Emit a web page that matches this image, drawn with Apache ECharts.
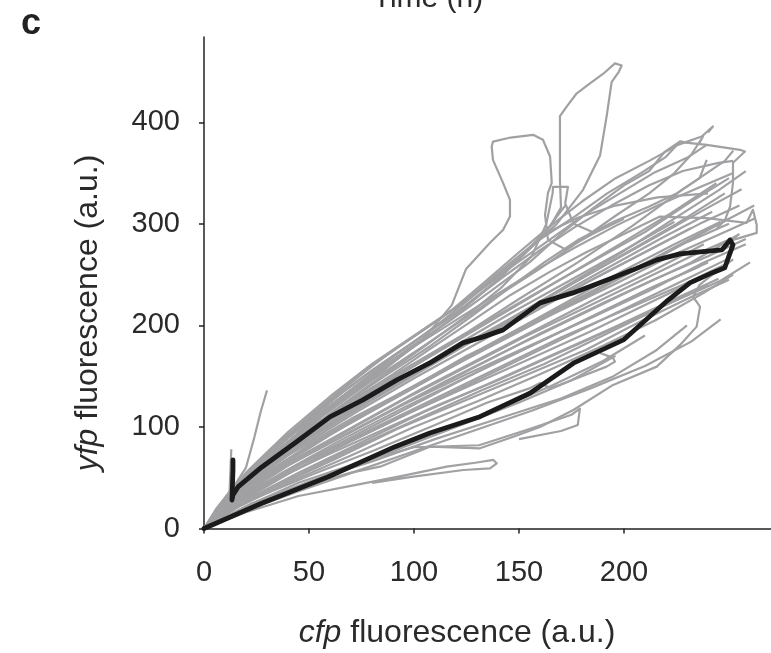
<!DOCTYPE html>
<html>
<head>
<meta charset="utf-8">
<script src="https://cdn.jsdelivr.net/npm/echarts@6/dist/echarts.min.js"></script>
<style>html,body{margin:0;padding:0;background:#fff}#chart{width:771px;height:653px}</style>
</head>
<body>
<div id="chart"></div>
<script>
// ---- tick labels ----
const xTicks = [0, 50, 100, 150, 200];
const yTicks = [0, 100, 200, 300, 400];

// ---- highlighted (black) trajectory: cfp, yfp ----
const blackCell = [[0,0],[27.5,24.8],[59.2,51],[91,80.6],[107.6,94],[131.4,110.1],[155.2,133.2],[175.9,162.8],[199.7,185.7],[221,225],[231.4,241.9],[241.9,251.7],[248,256.7],[250,268.5],[251.9,279.3],[250.5,284.2],[246.7,274.4],[236.2,272.4],[226.7,270.4],[215.7,264.5],[204.3,254.7],[191.9,244.8],[175.7,232],[160,222.2],[142.4,195.6],[132.9,188.7],[123.3,182.8],[107.6,163],[91.9,146.3],[75.7,126.6],[60,109.9],[43.3,84.2],[27.6,60.6],[16.2,40.9],[13.8,33],[13.3,28],[13.8,57.6],[13.8,67.5]];

// ---- grey trajectories (core of the fan) ----
const c01 = [[0,0],[15,20],[40,45],[70,72],[100,100],[130,125],[160,152],[190,180],[215,205],[238,232],[252,250]];
const c02 = [[0,0],[20,28],[45,55],[75,85],[105,115],[135,142],[165,170],[195,198],[220,222],[245,246]];
const c03 = [[0,0],[18,30],[45,62],[80,98],[110,128],[140,158],[170,188],[200,215],[228,240],[250,262]];
const c04 = [[0,0],[15,28],[40,62],[70,95],[100,128],[130,160],[160,192],[190,222],[215,246],[240,268],[258,285]];
const c05 = [[0,0],[20,38],[50,74],[85,112],[115,145],[145,176],[175,206],[205,236],[232,262],[255,290]];
const c06 = [[0,0],[18,38],[45,75],[75,110],[105,145],[135,178],[165,210],[195,240],[222,268],[248,292],[262,305]];
const c07 = [[0,0],[22,45],[50,82],[80,118],[110,152],[140,186],[170,218],[198,248],[225,278],[250,305]];
const c08 = [[0,0],[15,36],[40,72],[70,108],[100,140],[125,170],[155,200],[185,232],[212,262],[238,292],[262,318]];
const c09 = [[0,0],[20,46],[48,86],[78,124],[105,158],[132,190],[160,220],[190,254],[218,286],[242,312]];
const c10 = [[0,0],[12,32],[35,70],[65,110],[95,146],[120,176],[150,208],[180,240],[210,272],[236,300],[255,318]];
const c11 = [[0,0],[25,56],[55,98],[85,135],[112,168],[140,200],[168,232],[198,268],[225,300],[248,330]];
const c12 = [[0,0],[18,46],[44,88],[72,126],[100,160],[128,196],[155,228],[184,262],[210,292],[232,322],[250,345]];
const c13 = [[0,0],[10,30],[30,66],[58,104],[88,140],[116,172],[144,204],[170,236],[196,268],[220,300],[245,333],[258,352]];
const c14 = [[0,0],[20,52],[45,92],[70,126],[98,160],[126,194],[150,226],[178,262],[204,298],[228,334],[248,362],[252,372]];
const c15 = [[0,0],[16,24],[42,50],[72,80],[102,108],[132,136],[162,162],[192,192],[218,218],[240,240]];
const c16 = [[0,0],[14,26],[38,56],[66,88],[96,120],[126,150],[156,180],[186,210],[212,236],[236,258]];
const c17 = [[0,0],[16,34],[40,68],[68,102],[96,134],[124,166],[152,196],[180,228],[206,256],[230,282],[250,300]];
const c18 = [[0,0],[14,34],[36,70],[62,106],[90,142],[118,178],[146,212],[174,244],[200,274],[224,302]];
const c19 = [[0,0],[12,18],[35,42],[62,68],[92,98],[122,124],[152,150],[182,176],[208,204],[232,228],[250,245]];
const c20 = [[0,0],[18,27],[42,56],[70,86],[98,114],[126,140],[154,166],[184,194],[210,220],[236,246]];
const c21 = [[0,0],[14,24],[38,52],[64,80],[92,108],[120,136],[148,164],[176,192],[204,220],[230,246],[250,266]];
const c22 = [[0,0],[20,34],[46,64],[74,94],[102,124],[130,154],[158,182],[186,210],[214,238],[240,262]];
const c23 = [[0,0],[16,32],[40,64],[68,96],[96,128],[124,158],[152,188],[180,216],[206,242],[232,268],[254,288]];
const c24 = [[0,0],[22,42],[48,74],[76,106],[104,138],[132,168],[160,198],[188,228],[214,254],[238,280]];
const c25 = [[0,0],[12,26],[34,58],[60,92],[88,126],[116,158],[144,190],[172,222],[198,252],[224,280],[246,302]];
const c26 = [[0,0],[18,40],[44,78],[72,114],[100,148],[128,180],[156,212],[182,242],[208,270],[232,296]];
const c27 = [[0,0],[24,50],[50,88],[78,124],[106,158],[134,192],[162,226],[190,258],[216,288],[240,316],[256,334]];
const c28 = [[0,0],[14,36],[36,74],[62,112],[90,148],[118,182],[146,216],[172,248],[198,280],[222,310],[244,340]];
const c29 = [[0,0],[10,22],[30,44],[56,70],[84,96],[112,122],[140,146],[168,172],[196,198],[222,222],[246,244],[260,262]];
const c30 = [[0,0],[15,30],[38,60],[65,90],[95,122],[125,152],[155,180],[185,208],[212,234],[238,262],[258,280]];

// ---- grey trajectories (upper part and outliers) ----
const u01 = [[0,0],[8,25],[20,55],[40,95],[60,130],[80,162],[100,190],[118,215],[135,245],[150,272],[165,298],[180,322],[196,345],[212,362],[226,378],[237,386],[242.4,396],[240,390]];
const u02 = [[0,0],[10,28],[25,62],[45,100],[65,135],[85,168],[105,196],[125,225],[142,255],[158,282],[175,305],[192,330],[208,350],[220,366],[226.7,381],[231,380]];
const u03 = [[0,0],[12,30],[30,66],[50,104],[72,140],[92,172],[112,202],[130,232],[148,260],[165,285],[182,310],[198,330],[214,350],[230,365],[239.4,377.8],[255.2,372.9],[257.6,371.2],[251.9,360.1],[251.9,340.4],[250.5,317],[248.1,303.9],[244,295]];
const u04 = [[0,0],[15,36],[35,74],[56,112],[78,148],[98,178],[118,206],[138,236],[155,262],[170,290],[185,315],[200,338],[212,352],[219.5,371.2],[226.7,381.1],[230.5,379.8],[239.4,377.8]];
const u05 = [[0,0],[8,24],[15,44],[20,60],[24,90],[27,115],[30,136]];
const u06 = [[0,0],[15,40],[35,78],[60,118],[85,155],[105,188],[118,220],[124.8,255.6],[136.2,281.3],[142.4,294],[145.7,307.2],[145.7,323.6],[142.4,340.4],[137.6,363],[137,376],[137.6,381],[146,385],[156.7,387.7],[161.4,382.8],[164.8,366.3],[165.6,340.4],[163.8,330.5],[162.4,308.9],[163.8,284.2],[172,275],[185,290],[200,305]];
const u07 = [[0,0],[12,32],[30,68],[52,106],[75,142],[98,176],[120,210],[140,245],[155,275],[165,298],[170,316],[169.5,343],[169.5,406],[172.7,415.5],[177.5,428.6],[183.8,438.4],[190,447.6],[195.7,458],[198.9,456],[197.6,450],[194.1,439.6],[191.8,406.8],[188.6,367.3],[180.5,333.5],[174.3,316.7],[168,300],[160,285]];
const u08 = [[0,0],[14,35],[34,72],[58,110],[82,146],[104,178],[124,208],[142,238],[156,268],[163,300],[166,330],[166.2,336.4],[173.3,336.4],[172,320],[176,300],[185,292]];
const u09 = [[0,0],[16,38],[38,78],[62,116],[86,150],[108,180],[128,210],[146,238],[162,262],[178,284],[195,302],[212,317],[225,330],[236,345],[239.4,363]];
const u10 = [[0,0],[14,34],[34,72],[56,110],[80,146],[102,176],[122,204],[142,232],[160,256],[178,282],[196,308],[212,330],[224,350],[232,368],[237.6,386],[236,380]];
const u11 = [[0,0],[18,44],[42,84],[66,120],[90,152],[110,180],[128,205],[146,230],[164,252],[182,272],[200,290],[217.1,307.2],[239.4,305.6],[258.4,301],[261.4,313.8],[263.2,299],[263.2,291.1],[255.2,286.2],[248,282]];
const u12 = [[0,0],[12,28],[13,78]];
const u13 = [[0,0],[10,30],[26,64],[46,100],[66,134],[86,164],[106,192],[126,222],[144,250],[160,274],[176,296],[194,318],[212,338],[228,352],[245,360],[252,362]];
const u14 = [[0,0],[14,40],[32,76],[54,112],[76,146],[96,174],[116,200],[136,226],[156,252],[176,276],[196,298],[216,318],[236,336],[252,350]];
const u15 = [[0,0],[6,20],[18,50],[36,86],[58,122],[80,156],[100,184],[120,212],[138,242],[152,270],[164,296],[172,318]];
const u16 = [[0,0],[12,36],[30,74],[52,114],[72,148],[92,178],[112,206],[132,236],[150,266],[164,292],[178,306],[196,318],[216,326],[240,330]];

// ---- grey trajectories (lower part and loops) ----
const l01 = [[0,0],[20,16],[45,32],[70,42],[95,52],[115.6,60.9],[130,65],[137.8,67.5],[139.4,64.2],[136.2,59.3],[123.5,57.6],[99.7,51],[80,45]];
const l02 = [[0,0],[20,20],[45,40],[70,55],[83.8,60.9],[107.6,80.6],[131.4,79],[147.3,90.4],[160,100],[175.9,116.7],[194.8,141.4],[215.6,159.4],[226.7,180.8],[234.6,198.8],[236.2,218.5],[232.9,228],[236,240],[245,255],[252,265]];
const l03 = [[0,0],[20,22],[45,45],[75,66],[100,80],[131,82],[155,98],[175,112],[179,118],[178,102],[170,96],[150,88]];
const l04 = [[0,0],[20,26],[50,52],[80,76],[110,102],[135,124],[155,138],[160,143.3],[164.8,138.3],[169.5,141.6],[191.7,159.4],[195.7,164.3],[194.8,168],[188.6,172.9]];
const l05 = [[0,0],[25,25],[55,50],[85,74],[115,98],[140,118],[165,140],[190,165],[210,190]];
const l06 = [[0,0],[22,24],[50,46],[80,66],[110,88],[140,108],[170,128],[195,150],[215,175],[230,200]];
const l07 = [[0,0],[18,16],[44,36],[72,56],[100,76],[128,96],[156,116],[184,138],[210,160],[232,184],[246,206]];
const l08 = [[0,0],[30,28],[60,52],[90,76],[120,100],[150,124],[175,146],[196,170]];

const greyCells = [c01,c02,c03,c04,c05,c06,c07,c08,c09,c10,c11,c12,c13,c14,c15,c16,c17,c18,c19,c20,c21,c22,c23,c24,c25,c26,c27,c28,c29,c30,
  u01,u02,u03,u04,u05,u06,u07,u08,u09,u10,u11,u12,u13,u14,u15,u16,l01,l02,l03,l04,l05,l06,l07,l08];

const FONT = '"Liberation Sans", Arial, Helvetica, sans-serif';
const TXT = '#2a2a2a';

const series = greyCells.map(function (p) {
  return { type: 'line', data: p, showSymbol: false, symbol: 'none', silent: true, z: 2,
    lineStyle: { color: '#a1a1a4', width: 2.2, join: 'round' } };
});
series.push({ type: 'line', data: blackCell, showSymbol: false, symbol: 'none', silent: true, z: 5,
  lineStyle: { color: '#1b1b1b', width: 4.8, join: 'round', cap: 'round' } });

const chart = echarts.init(document.getElementById('chart'), null, { renderer: 'canvas' });
chart.setOption({
  animation: false,
  backgroundColor: '#ffffff',
  grid: { left: 204, right: 0, top: 37, bottom: 124.5, containLabel: false, outerBoundsMode: 'none' },
  xAxis: {
    type: 'value', min: 0, max: 270, interval: 50,
    axisLine: { show: true, onZero: false, lineStyle: { color: '#222', width: 1.5 } },
    axisTick: { show: true, inside: false, length: 5, customValues: xTicks, lineStyle: { color: '#222', width: 1.5 } },
    axisLabel: { customValues: xTicks, margin: 30, fontSize: 29, color: TXT, fontFamily: FONT },
    splitLine: { show: false }
  },
  yAxis: {
    type: 'value', min: 0, max: 484, interval: 100,
    axisLine: { show: true, onZero: false, lineStyle: { color: '#222', width: 1.5 } },
    axisTick: { show: true, inside: false, length: 5, customValues: yTicks, lineStyle: { color: '#222', width: 1.5 } },
    axisLabel: { customValues: yTicks, margin: 24, fontSize: 29, color: TXT, fontFamily: FONT },
    splitLine: { show: false }
  },
  graphic: [
    { type: 'text', left: 21, top: 6, style: { text: 'c', font: 'bold 36px ' + FONT, fill: '#222' } },
    { type: 'text', x: 428, y: -1, style: { text: 'Time (h)', font: '30px ' + FONT, fill: TXT, align: 'center', verticalAlign: 'middle' } },
    { type: 'text', x: 457, y: 633, style: { text: '{i|cfp} fluorescence (a.u.)', font: '32px ' + FONT, fill: TXT, align: 'center', verticalAlign: 'middle',
        rich: { i: { fontStyle: 'italic', fontSize: 32, fontFamily: FONT, fill: TXT } } } },
    { type: 'text', x: 88, y: 313, rotation: Math.PI / 2, style: { text: '{i|yfp} fluorescence (a.u.)', font: '32px ' + FONT, fill: TXT, align: 'center', verticalAlign: 'middle',
        rich: { i: { fontStyle: 'italic', fontSize: 32, fontFamily: FONT, fill: TXT } } } }
  ],
  series: series
});
</script>
</body>
</html>
